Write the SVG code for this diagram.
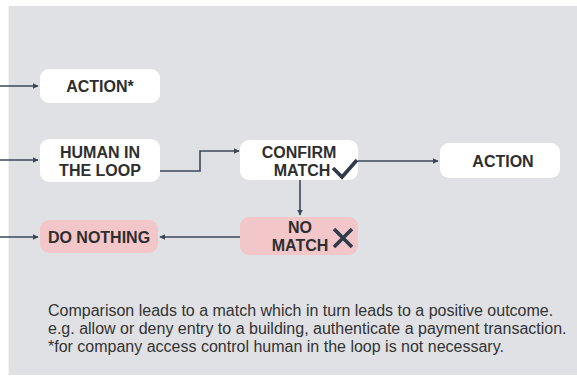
<svg xmlns="http://www.w3.org/2000/svg" width="577" height="377" viewBox="0 0 577 377">
  <style>
    .box { fill: #ffffff; }
    .neg { fill: #f3c6ca; }
    .lbl { font-family: "Liberation Sans", Arial, sans-serif; font-weight: 700; font-size: 16px; fill: #2e2e2e; text-anchor: middle; }
    .cap { font-family: "Liberation Sans", Arial, sans-serif; font-size: 16px; fill: #333333; }
    .wire { fill: none; stroke: #3b4757; stroke-width: 1.6; }
    .mark { fill: none; stroke: #2f3b4a; stroke-width: 3.6; stroke-linecap: butt; }
  </style>
  <defs>
    <marker id="arr" viewBox="0 0 10 10" refX="9" refY="5" markerWidth="6" markerHeight="6" markerUnits="userSpaceOnUse" orient="auto">
      <path d="M0,0 L10,5 L0,10 z" fill="#3b4757"/>
    </marker>
  </defs>

  <rect x="0" y="0" width="577" height="377" fill="#ffffff"/>
  <rect x="8.5" y="6" width="568.5" height="369" fill="#e0e1e4"/>

  <g id="connectors">
    <path class="wire" d="M0,86 H38" marker-end="url(#arr)"/>
    <path class="wire" d="M0,160 H38" marker-end="url(#arr)"/>
    <path class="wire" d="M0,237 H38" marker-end="url(#arr)"/>
    <path class="wire" d="M160,171 H200 V151 H239" marker-end="url(#arr)"/>
    <path class="wire" d="M358,161 H438" marker-end="url(#arr)"/>
    <path class="wire" d="M300,180 V215" marker-end="url(#arr)"/>
    <path class="wire" d="M240,237 H160" marker-end="url(#arr)"/>
  </g>

  <g id="action-direct">
    <rect class="box" x="40" y="69" width="120" height="34" rx="9"/>
    <text class="lbl" x="100" y="92">ACTION*</text>
  </g>

  <g id="human-in-the-loop">
    <rect class="box" x="40" y="139" width="120" height="43" rx="9"/>
    <text class="lbl" x="100" y="158">HUMAN IN<tspan x="100" dy="18">THE LOOP</tspan></text>
  </g>

  <g id="confirm-match">
    <rect class="box" x="240" y="140" width="118" height="40" rx="9"/>
    <text class="lbl" x="299" y="158">CONFIRM<tspan x="302" dy="18">MATCH</tspan></text>
    <path class="mark" d="M333,168 L342,177 L357,160"/>
  </g>

  <g id="action">
    <rect class="box" x="440" y="143" width="120" height="35" rx="9"/>
    <text class="lbl" x="503" y="167">ACTION</text>
  </g>

  <g id="no-match">
    <rect class="neg" x="240" y="217" width="118" height="38" rx="9"/>
    <text class="lbl" x="300" y="233">NO<tspan x="300" dy="18">MATCH</tspan></text>
    <path class="mark" d="M334,229 L352,247 M352,229 L334,247"/>
  </g>

  <g id="do-nothing">
    <rect class="neg" x="40" y="220" width="118" height="33" rx="9"/>
    <text class="lbl" x="99" y="243">DO NOTHING</text>
  </g>

  <g id="caption">
    <text class="cap" x="48" y="316">Comparison leads to a match which in turn leads to a positive outcome.<tspan x="48" dy="18">e.g. allow or deny entry to a building, authenticate a payment transaction.</tspan><tspan x="48" dy="18">*for company access control human in the loop is not necessary.</tspan></text>
  </g>
</svg>
